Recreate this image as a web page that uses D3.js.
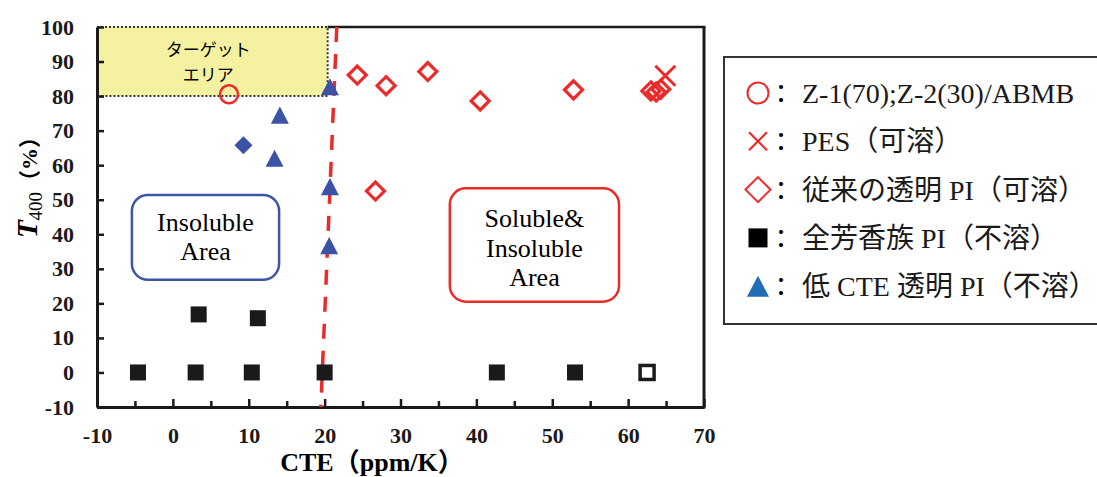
<!DOCTYPE html>
<html>
<head>
<meta charset="utf-8">
<script src="https://cdn.jsdelivr.net/npm/d3@7"></script>
<style>
  body { margin: 0; background: #fff; }
  svg { display: block; }
</style>
</head>
<body>
<svg id="chart"></svg>
<script>
// Chart dimensions
const width = 1097;
const height = 477;
const plot = { left: 97, right: 704, top: 27, bottom: 407 };

// Axis ticks
const xMajorTicks = [-10, 0, 10, 20, 30, 40, 50, 60, 70];
const xMinorTicks = [-5, 5, 15, 25, 35, 45, 55, 65];
const yTicks = [-10, 0, 10, 20, 30, 40, 50, 60, 70, 80, 90, 100];

// Data points: [CTE (ppm/K), T400 (%)]
const z1Points = [[7.4, 80.5]];
const pesPoints = [[64.9, 85.9]];
const conventionalPoints = [[24.3, 86.1], [28.1, 83.0], [33.6, 87.1], [40.5, 78.6], [52.8, 81.8],
  [26.7, 52.5], [63.0, 81.5], [63.7, 81.2], [64.3, 82.0]];
const aromaticPoints = [[-4.6, 0], [3.0, 0], [10.4, 0], [20.0, 0], [42.7, 0], [53.0, 0],
  [3.4, 16.8], [11.2, 15.7]];
const aromaticOpenPoints = [[62.5, 0]];
const lowCtePoints = [[20.7, 82.7], [14.1, 74.5], [13.4, 62.0], [20.7, 53.8], [20.6, 36.7]];
const lowCteDiamondPoints = [[9.3, 65.8]];

// Dashed boundary between the areas
const boundaryLine = [[21.6, 100], [19.5, -10]];

// Target area and area boxes, in data units
const targetArea = { x0: -10, x1: 20.4, y0: 80, y1: 100 };
const targetText = ["ターゲット", "エリア"];
const insolubleBox = { x0: -5.4, x1: 14.0, y0: 26.8, y1: 51.4 };
const insolubleText = ["Insoluble", "Area"];
const solubleBox = { x0: 36.5, x1: 58.8, y0: 20.5, y1: 53.3 };
const solubleText = ["Soluble&", "Insoluble", "Area"];

// Legend labels
const legendLabels = ["Z-1(70);Z-2(30)/ABMB", "PES（可溶）", "従来の透明 PI（可溶）",
  "全芳香族 PI（不溶）", "低 CTE 透明 PI（不溶）"];

const red = "#ec2a2a";
const blue = "#3a53a4";
const serif = "'Liberation Serif', 'Noto Sans CJK JP', serif";

const svg = d3.select("#chart")
  .attr("width", width)
  .attr("height", height)
  .style("font-family", serif);

const x = d3.scaleLinear().domain([-10, 70]).range([plot.left, plot.right]);
const y = d3.scaleLinear().domain([-10, 100]).range([plot.bottom, plot.top]);

// Marker shapes, centred on 0,0
const shapes = {
  circle: (g, s) => g.append("circle").attr("r", s),
  cross: (g, s) => g.append("path").attr("d", `M${-s},${-s}L${s},${s}M${-s},${s}L${s},${-s}`),
  diamond: (g, s) => g.append("path").attr("d", `M0,${-s}L${s},0L0,${s}L${-s},0Z`),
  square: (g, s) => g.append("rect").attr("x", -s).attr("y", -s).attr("width", 2 * s).attr("height", 2 * s),
  triangle: (g, s) => g.append("path").attr("d", `M0,${-s * 0.95}L${s},${s * 0.95}L${-s},${s * 0.95}Z`)
};

// Yellow target area
svg.append("rect")
  .attr("x", x(targetArea.x0))
  .attr("y", y(targetArea.y1))
  .attr("width", x(targetArea.x1) - x(targetArea.x0))
  .attr("height", y(targetArea.y0) - y(targetArea.y1))
  .attr("fill", "#f4f1a1")
  .attr("stroke", "#333")
  .attr("stroke-width", 2)
  .attr("stroke-dasharray", "2,2");

// Two-line label
const targetCx = (x(targetArea.x0) + x(targetArea.x1)) / 2 - 4;
svg.append("g")
  .selectAll("text")
  .data(targetText)
  .join("text")
  .attr("x", targetCx)
  .attr("y", (d, i) => 56 + i * 25)
  .attr("text-anchor", "middle")
  .style("font-family", "'Noto Sans CJK JP'")
  .style("font-size", "17px")
  .text(d => d);

// Axes (ticks point inwards)
svg.append("g")
  .attr("transform", `translate(0,${plot.bottom})`)
  .call(d3.axisBottom(x).tickValues(xMajorTicks).tickSizeInner(-8).tickSizeOuter(0)
    .tickPadding(20).tickFormat(d => String(d)));
svg.append("g")
  .attr("transform", `translate(0,${plot.bottom})`)
  .call(d3.axisBottom(x).tickValues(xMinorTicks).tickSizeInner(-6).tickSizeOuter(0).tickFormat(""))
  .select(".domain").remove();

svg.append("g")
  .attr("transform", `translate(${plot.left},0)`)
  .call(d3.axisLeft(y).tickValues(yTicks).tickSizeInner(-7).tickSizeOuter(0)
    .tickPadding(23).tickFormat(d => String(d)));

svg.selectAll(".domain").attr("stroke", "#1a1a1a").attr("stroke-width", 3);
svg.selectAll(".tick line").attr("stroke", "#1a1a1a").attr("stroke-width", 2.5);
svg.selectAll(".tick text")
  .attr("fill", "#1a1a1a")
  .style("font-family", serif)
  .style("font-size", "22px")
  .style("font-weight", "bold");

// Top and right frame
svg.append("line")
  .attr("x1", x(targetArea.x1)).attr("x2", plot.right + 1.5)
  .attr("y1", plot.top).attr("y2", plot.top)
  .attr("stroke", "#1a1a1a").attr("stroke-width", 2.5);
svg.append("line")
  .attr("x1", plot.right).attr("x2", plot.right)
  .attr("y1", plot.top).attr("y2", plot.bottom + 1.5)
  .attr("stroke", "#1a1a1a").attr("stroke-width", 3);

// Axis titles
svg.append("text")
  .attr("x", 372)
  .attr("y", 471)
  .attr("text-anchor", "middle")
  .style("font-size", "26px")
  .style("font-weight", "bold")
  .text("CTE（ppm/K）");

const yTitle = svg.append("text")
  .attr("transform", "translate(37,182) rotate(-90)")
  .attr("text-anchor", "middle")
  .style("font-weight", "bold");
yTitle.append("tspan").style("font-style", "italic").style("font-size", "29px").text("T");
yTitle.append("tspan").attr("dy", 5).style("font-size", "19px").style("font-weight", "normal").text("400");
yTitle.append("tspan").attr("dy", -5).style("font-size", "22px").text("（%）");

// Area boxes
function areaBox(box, lines, color, baseline, step) {
  svg.append("rect")
    .attr("x", x(box.x0))
    .attr("y", y(box.y1))
    .attr("width", x(box.x1) - x(box.x0))
    .attr("height", y(box.y0) - y(box.y1))
    .attr("rx", 16)
    .attr("fill", "#fff")
    .attr("stroke", color)
    .attr("stroke-width", 2.5);
  svg.append("g")
    .selectAll("text")
    .data(lines)
    .join("text")
    .attr("x", (x(box.x0) + x(box.x1)) / 2)
    .attr("y", (d, i) => baseline + i * step)
    .attr("text-anchor", "middle")
    .style("font-size", "26px")
    .text(d => d);
}
areaBox(insolubleBox, insolubleText, "#3c55a5", 231, 29);
areaBox(solubleBox, solubleText, red, 227, 29.5);

// Boundary line
svg.append("path")
  .datum(boundaryLine)
  .attr("d", d3.line().x(d => x(d[0])).y(d => y(d[1])))
  .attr("fill", "none")
  .attr("stroke", red)
  .attr("stroke-width", 3.5)
  .attr("stroke-dasharray", "15,12");

// Series styles
const series = [
  { data: aromaticPoints, shape: "square", size: 8, fill: "#1a1a1a", stroke: "none", sw: 0 },
  { data: aromaticOpenPoints, shape: "square", size: 7, fill: "#fff", stroke: "#1a1a1a", sw: 3.5 },
  { data: conventionalPoints, shape: "diamond", size: 9, fill: "none", stroke: red, sw: 3.2 },
  { data: z1Points, shape: "circle", size: 9, fill: "none", stroke: red, sw: 2.5 },
  { data: pesPoints, shape: "cross", size: 10, fill: "none", stroke: red, sw: 3 },
  { data: lowCteDiamondPoints, shape: "diamond", size: 9, fill: blue, stroke: "none", sw: 0 },
  { data: lowCtePoints, shape: "triangle", size: 9, fill: blue, stroke: "none", sw: 0 }
];

series.forEach(s => {
  svg.append("g")
    .selectAll("g")
    .data(s.data)
    .join("g")
    .attr("transform", d => `translate(${x(d[0])},${y(d[1])})`)
    .each(function () {
      shapes[s.shape](d3.select(this), s.size)
        .attr("fill", s.fill)
        .attr("stroke", s.stroke)
        .attr("stroke-width", s.sw);
    });
});

// Legend
svg.append("rect")
  .attr("x", 724)
  .attr("y", 57)
  .attr("width", 400)
  .attr("height", 267)
  .attr("fill", "#fff")
  .attr("stroke", "#333")
  .attr("stroke-width", 2);

const legendMarks = [
  { shape: "circle", size: 10.5, fill: "none", stroke: red, sw: 2 },
  { shape: "cross", size: 9, fill: "none", stroke: red, sw: 2.2 },
  { shape: "diamond", size: 12.5, fill: "none", stroke: red, sw: 2 },
  { shape: "square", size: 9.5, fill: "#000", stroke: "none", sw: 0 },
  { shape: "triangle", size: 11, fill: "#1f6db6", stroke: "none", sw: 0 }
];

const legend = svg.append("g")
  .selectAll("g")
  .data(legendLabels)
  .join("g")
  .attr("transform", (d, i) => `translate(0,${103 + i * 48.3})`);

legend.each(function (d, i) {
  const m = legendMarks[i];
  shapes[m.shape](d3.select(this).append("g").attr("transform", "translate(758,-10)"), m.size)
    .attr("fill", m.fill)
    .attr("stroke", m.stroke)
    .attr("stroke-width", m.sw);
});

legend.append("text")
  .attr("x", 781)
  .attr("text-anchor", "middle")
  .style("font-size", "26px")
  .text("：");

legend.append("text")
  .attr("x", 802)
  .style("font-size", "28px")
  .attr("fill", "#1a1a1a")
  .text(d => d);
</script>
</body>
</html>
